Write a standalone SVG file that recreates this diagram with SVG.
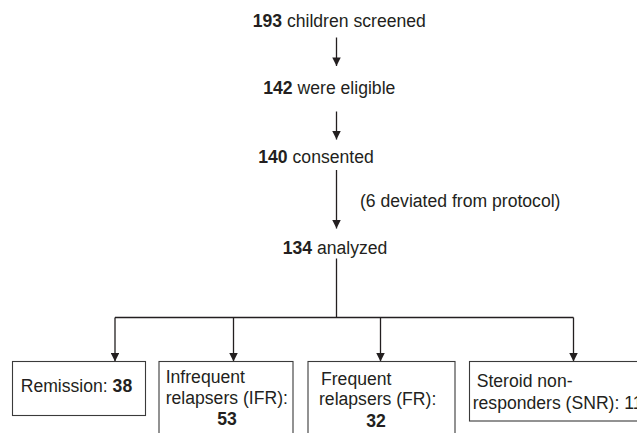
<svg xmlns="http://www.w3.org/2000/svg" width="637" height="433" viewBox="0 0 637 433">
<style>
text{font-family:"Liberation Sans",Arial,sans-serif;font-size:17.6px;fill:#231f20}
.b{font-weight:bold}
.box{fill:#fff;stroke:#3a3a3a;stroke-width:1.1}
.ln{fill:none;stroke:#231f20;stroke-width:1.3}
</style>
<defs>
<marker id="ah" viewBox="0 0 10 10" refX="10" refY="5" markerWidth="9.5" markerHeight="8.5" markerUnits="userSpaceOnUse" orient="auto">
<path d="M0,0 L10,5 L0,10 z" fill="#231f20"/>
</marker>
</defs>
<rect width="637" height="433" fill="#fff"/>
<g id="connectors">
<path class="ln" d="M336.5,37.5 V66" marker-end="url(#ah)"/>
<path class="ln" d="M336.5,111.5 V139.5" marker-end="url(#ah)"/>
<path class="ln" d="M336.5,170 V228.5" marker-end="url(#ah)"/>
<path class="ln" d="M336.5,258.5 V317.5"/>
<path class="ln" d="M115,317.5 H573.5"/>
<path class="ln" d="M115,317.5 V361.5" marker-end="url(#ah)"/>
<path class="ln" d="M233.5,317.5 V361.5" marker-end="url(#ah)"/>
<path class="ln" d="M380.5,317.5 V361.5" marker-end="url(#ah)"/>
<path class="ln" d="M573.5,317.5 V361.5" marker-end="url(#ah)"/>
</g>
<g id="screened"><text x="252.7" y="27"><tspan class="b">193</tspan> children screened</text></g>
<g id="eligible"><text x="263.3" y="94"><tspan class="b">142</tspan> were eligible</text></g>
<g id="consented"><text x="258.3" y="163"><tspan class="b">140</tspan> consented</text></g>
<g id="deviated"><text x="360" y="207">(6 deviated from protocol)</text></g>
<g id="analyzed"><text x="282.7" y="254"><tspan class="b">134</tspan> analyzed</text></g>
<g id="remission">
<rect class="box" x="12.5" y="361.5" width="133" height="54"/>
<text x="20.7" y="392">Remission: <tspan class="b">38</tspan></text>
</g>
<g id="ifr">
<rect class="box" x="159" y="361.5" width="134" height="80"/>
<text x="165.7" y="383">Infrequent</text>
<text x="165.7" y="404">relapsers (IFR):</text>
<text x="227" y="425" class="b" text-anchor="middle">53</text>
</g>
<g id="fr">
<rect class="box" x="308" y="361.5" width="147" height="80"/>
<text x="321" y="385">Frequent</text>
<text x="319" y="405">relapsers (FR):</text>
<text x="376" y="427" class="b" text-anchor="middle">32</text>
</g>
<g id="snr">
<rect class="box" x="469.5" y="361.5" width="200" height="59.5"/>
<text x="476.7" y="387">Steroid non-</text>
<text x="472.7" y="409">responders (SNR): 11</text>
</g>
</svg>
